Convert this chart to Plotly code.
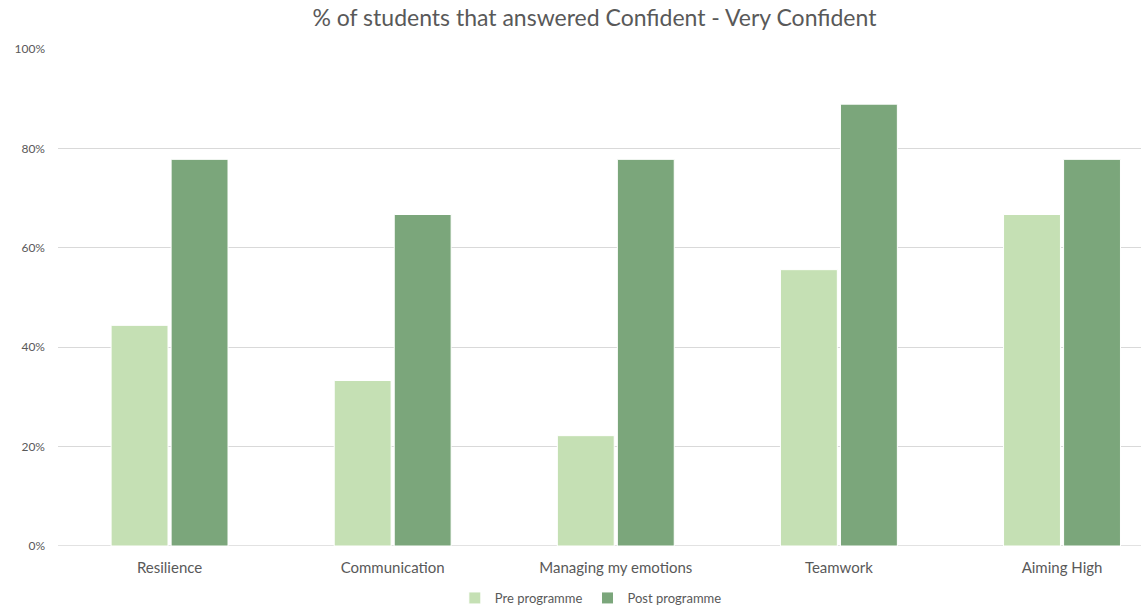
import plotly.graph_objects as go

categories = ["Resilience", "Communication", "Managing my emotions", "Teamwork", "Aiming High"]
pre_values = [0.444, 0.333, 0.222, 0.556, 0.667]
post_values = [0.778, 0.667, 0.778, 0.889, 0.778]
y_ticks = [0, 0.2, 0.4, 0.6, 0.8, 1.0]
y_tick_labels = ["0%", "20%", "40%", "60%", "80%", "100%"]

FONT = "Lato, 'Open Sans', sans-serif"
TXT = "#595959"

fig = go.Figure()
fig.add_trace(go.Bar(
    name="Pre programme", x=list(range(len(categories))), y=pre_values,
    marker=dict(color="#C5E0B4", line=dict(color="white", width=1)),
    width=0.255, offset=-0.262,
))
fig.add_trace(go.Bar(
    name="Post programme", x=list(range(len(categories))), y=post_values,
    marker=dict(color="#7BA67B", line=dict(color="white", width=1)),
    width=0.255, offset=0.007,
))

fig.update_layout(
    width=1141, height=607,
    barmode="overlay",
    plot_bgcolor="white", paper_bgcolor="white",
    margin=dict(l=58, r=0, t=49, b=61),
    font=dict(family=FONT, color=TXT),
    title=dict(text="% of students that answered Confident - Very Confident",
               x=0.521, xanchor="center", xref="container",
               y=1 - 18 / 607, yanchor="middle", yref="container",
               font=dict(size=23, color=TXT, family=FONT)),
    showlegend=True,
    legend=dict(orientation="h", x=0.492, xanchor="center", xref="paper",
                y=(607 - 598) / 607, yanchor="middle", yref="container",
                font=dict(size=13, color=TXT), itemwidth=30,
                traceorder="normal"),
    xaxis=dict(
        tickmode="array", tickvals=list(range(len(categories))), ticktext=categories,
        range=[-0.5, 4.354], showgrid=False, zeroline=False,
        showline=False, ticks="", tickfont=dict(size=15, color=TXT),
        ticklabelstandoff=11,
    ),
    yaxis=dict(
        range=[0, 1.0], tickmode="array", tickvals=y_ticks, ticktext=y_tick_labels,
        showgrid=True, gridcolor="#D9D9D9", gridwidth=1, zeroline=False,
        showline=False, ticks="", tickfont=dict(size=12, color=TXT),
        ticklabelstandoff=12,
    ),
    bargap=0.48,
)
fig.add_hline(y=0, line=dict(color="#D9D9D9", width=1.5), layer="below")

fig.write_html("out.html")
